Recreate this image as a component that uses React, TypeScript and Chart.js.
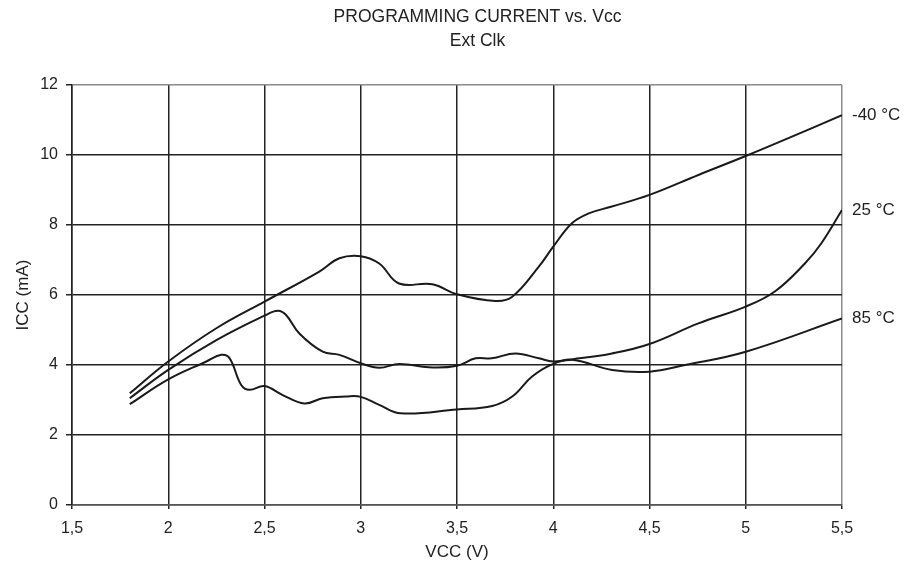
import React, { useEffect, useRef } from "react";
import { Chart, registerables } from "chart.js";

Chart.register(...registerables);

const titleLines = ["PROGRAMMING CURRENT vs. Vcc", "Ext Clk"];
const xTickLabels = ["1,5", "2", "2,5", "3", "3,5", "4", "4,5", "5", "5,5"];
const seriesLabels = ["-40 °C", "25 °C", "85 °C"];

const xM40 = [1.8, 2.0, 2.25, 2.5, 2.785, 2.889, 3.0, 3.096, 3.199, 3.372, 3.5, 3.7, 3.787, 3.925, 4.0, 4.097, 4.184, 4.3, 4.5, 4.754, 5.0, 5.2, 5.5];
const yM40 = [3.19, 4.1, 5.05, 5.81, 6.67, 7.05, 7.11, 6.9, 6.33, 6.31, 6.02, 5.83, 5.95, 6.81, 7.38, 8.05, 8.33, 8.52, 8.86, 9.43, 9.97, 10.43, 11.14];

const x25 = [1.8, 2.0, 2.25, 2.5, 2.569, 2.612, 2.681, 2.802, 2.889, 3.0, 3.096, 3.199, 3.372, 3.5, 3.597, 3.68, 3.804, 3.925, 4.0, 4.097, 4.305, 4.5, 4.754, 5.0, 5.151, 5.307, 5.393, 5.5];
const y25 = [3.05, 3.86, 4.71, 5.41, 5.55, 5.43, 4.9, 4.38, 4.29, 4.05, 3.92, 4.03, 3.93, 3.98, 4.19, 4.19, 4.33, 4.19, 4.1, 4.16, 4.33, 4.6, 5.19, 5.67, 6.1, 6.9, 7.48, 8.43];

const x85 = [1.8, 2.0, 2.198, 2.276, 2.319, 2.379, 2.422, 2.5, 2.595, 2.707, 2.802, 2.923, 3.0, 3.096, 3.208, 3.5, 3.683, 3.787, 3.89, 4.0, 4.1, 4.305, 4.5, 4.685, 5.0, 5.5];
const y85 = [2.88, 3.59, 4.1, 4.29, 4.19, 3.43, 3.29, 3.4, 3.14, 2.9, 3.05, 3.1, 3.09, 2.86, 2.62, 2.73, 2.83, 3.1, 3.67, 4.03, 4.15, 3.86, 3.81, 4.0, 4.38, 5.33];

const FONT = "'Liberation Sans', Arial, Helvetica, sans-serif";
const INK = "#222222";

function pts(xs: number[], ys: number[]) {
  return xs.map((x, i) => ({ x, y: ys[i] }));
}

export default function App() {
  const ref = useRef<HTMLCanvasElement | null>(null);

  useEffect(() => {
    if (!ref.current) return;
    const series = [pts(xM40, yM40), pts(x25, y25), pts(x85, y85)];

    const annotate = {
      id: "annotate",
      afterDraw(chart: any) {
        const ctx = chart.ctx;
        ctx.save();
        ctx.fillStyle = INK;
        ctx.textAlign = "center";
        ctx.textBaseline = "middle";
        ctx.font = `17.5px ${FONT}`;
        ctx.fillText(titleLines[0], 477.5, 17.5);
        ctx.fillText(titleLines[1], 477.5, 41);
        const ys = chart.scales.y;
        const area = chart.chartArea;
        ctx.textAlign = "left";
        ctx.font = `17px ${FONT}`;
        chart.data.datasets.forEach((ds: any, i: number) => {
          const last = ds.data[ds.data.length - 1];
          ctx.fillText(seriesLabels[i], area.right + 10, ys.getPixelForValue(last.y));
        });
        ctx.restore();
      },
    };

    const chart = new Chart(ref.current, {
      type: "line",
      data: {
        datasets: series.map((d, i) => ({
          label: seriesLabels[i],
          data: d,
          borderColor: "#1a1a1a",
          borderWidth: 2,
          pointRadius: 0,
          fill: false,
          tension: 0.4,
        })),
      },
      options: {
        animation: false,
        responsive: false,
        maintainAspectRatio: false,
        layout: { padding: { top: 85, right: 62, left: 0, bottom: 0 } },
        plugins: {
          legend: { display: false },
          title: { display: false },
          tooltip: { enabled: false },
        },
        scales: {
          x: {
            type: "linear",
            min: 1.5,
            max: 5.5,
            afterFit(scale: any) {
              scale.height = 68;
            },
            afterBuildTicks(scale: any) {
              scale.ticks = xTickLabels.map((_, i) => ({ value: 1.5 + i * 0.5 }));
            },
            ticks: {
              color: INK,
              font: { family: FONT, size: 16 },
              padding: 10,
              maxRotation: 0,
              autoSkip: false,
              callback: (_v: any, i: number) => xTickLabels[i],
            },
            grid: {
              color: (c: any) => (c.tick && c.tick.value === 5.5 ? "#8a8a8a" : INK),
              tickColor: INK,
              lineWidth: 1.5,
              tickLength: 4,
            },
            border: { color: "#555555", width: 1.5 },
            title: {
              display: true,
              text: "VCC (V)",
              color: INK,
              font: { family: FONT, size: 17 },
              padding: { top: 0, bottom: 10 },
            },
          },
          y: {
            type: "linear",
            min: 0,
            max: 12,
            afterFit(scale: any) {
              scale.width = 72;
            },
            ticks: {
              stepSize: 2,
              color: INK,
              font: { family: FONT, size: 16 },
              padding: 8,
            },
            grid: {
              color: (c: any) => (c.tick && c.tick.value === 12 ? "#8a8a8a" : INK),
              tickColor: INK,
              lineWidth: 1.5,
              tickLength: 6,
            },
            border: { color: INK, width: 1.5 },
            title: {
              display: true,
              text: "ICC (mA)",
              color: INK,
              font: { family: FONT, size: 17 },
              padding: { top: 13, bottom: 0 },
            },
          },
        },
      },
      plugins: [annotate],
    } as any);

    return () => chart.destroy();
  }, []);

  return (
    <div style={{ position: "fixed", left: 0, top: 0, width: 904, height: 573, background: "#fff" }}>
      <canvas ref={ref} width={904} height={573} style={{ display: "block", width: 904, height: 573 }} />
    </div>
  );
}
